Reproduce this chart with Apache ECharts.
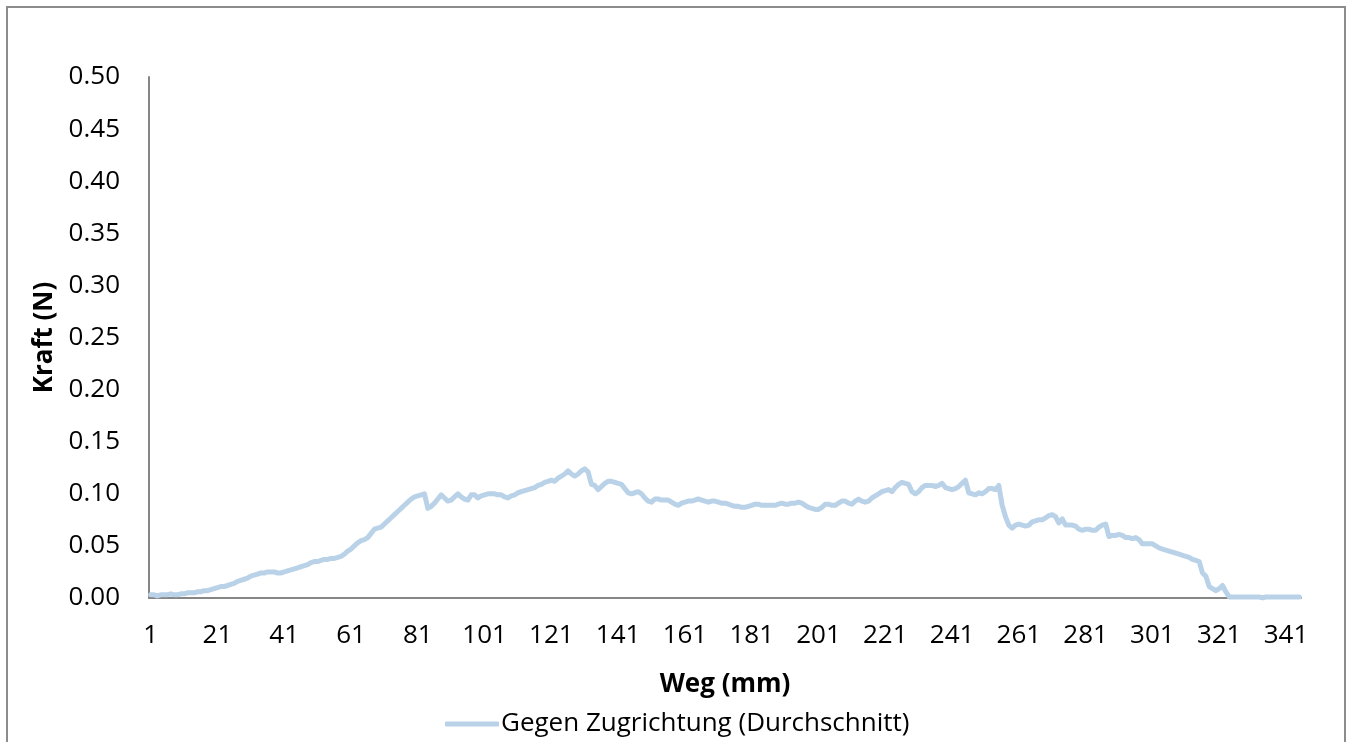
<!DOCTYPE html>
<html>
<head>
<meta charset="utf-8">
<script src="https://cdn.jsdelivr.net/npm/echarts@6/dist/echarts.min.js"></script>
<style>
  html, body { margin: 0; padding: 0; background: #ffffff; }
  #chart { width: 1352px; height: 742px; }
</style>
</head>
<body>
<div id="chart"></div>
<script>
// Weg positions (mm), one per measurement step
const wegCount = 345;
const wegCategories = [];
for (let i = 1; i <= wegCount; i++) wegCategories.push(String(i));

// Average force against the pull direction (N), one value per mm
const kraftGegenZug = [
  0.003,0.003,0.002,0.003,0.003,0.003,0.004,0.003,0.003,0.004,
  0.004,0.005,0.005,0.005,0.006,0.006,0.007,0.007,0.008,0.009,
  0.010,0.011,0.011,0.012,0.013,0.014,0.016,0.017,0.018,0.019,
  0.021,0.022,0.023,0.024,0.024,0.025,0.025,0.025,0.024,0.024,
  0.025,0.026,0.027,0.028,0.029,0.030,0.031,0.032,0.034,0.035,
  0.035,0.036,0.037,0.037,0.038,0.038,0.039,0.040,0.042,0.045,
  0.047,0.050,0.053,0.055,0.056,0.058,0.062,0.066,0.067,0.068,
  0.071,0.074,0.077,0.080,0.083,0.086,0.089,0.092,0.095,0.097,
  0.098,0.099,0.100,0.086,0.088,0.091,0.095,0.099,0.096,0.093,
  0.094,0.097,0.100,0.097,0.095,0.094,0.099,0.099,0.096,0.098,
  0.099,0.100,0.100,0.100,0.099,0.099,0.097,0.096,0.098,0.099,
  0.101,0.102,0.103,0.104,0.105,0.106,0.108,0.109,0.111,0.112,
  0.113,0.112,0.115,0.117,0.119,0.122,0.119,0.117,0.119,0.122,
  0.124,0.121,0.109,0.108,0.104,0.107,0.110,0.112,0.112,0.111,
  0.110,0.109,0.105,0.101,0.100,0.101,0.102,0.100,0.096,0.093,
  0.092,0.095,0.095,0.094,0.094,0.094,0.092,0.090,0.089,0.091,
  0.092,0.093,0.093,0.094,0.095,0.094,0.093,0.092,0.093,0.093,
  0.092,0.091,0.091,0.090,0.089,0.088,0.088,0.087,0.087,0.088,
  0.089,0.090,0.090,0.089,0.089,0.089,0.089,0.089,0.090,0.091,
  0.090,0.090,0.091,0.091,0.092,0.091,0.089,0.087,0.086,0.085,
  0.085,0.087,0.090,0.090,0.089,0.089,0.091,0.093,0.093,0.091,
  0.090,0.093,0.095,0.093,0.092,0.093,0.096,0.098,0.100,0.102,
  0.103,0.104,0.102,0.106,0.109,0.111,0.110,0.109,0.102,0.100,
  0.102,0.106,0.108,0.108,0.108,0.107,0.108,0.110,0.106,0.105,
  0.104,0.105,0.107,0.110,0.113,0.101,0.100,0.099,0.101,0.100,
  0.102,0.105,0.105,0.104,0.108,0.089,0.078,0.070,0.067,0.070,
  0.071,0.070,0.069,0.070,0.073,0.074,0.075,0.075,0.077,0.079,
  0.080,0.078,0.072,0.076,0.070,0.070,0.070,0.069,0.066,0.065,
  0.066,0.066,0.065,0.065,0.068,0.070,0.071,0.059,0.060,0.060,
  0.061,0.060,0.058,0.058,0.057,0.058,0.056,0.052,0.052,0.052,
  0.052,0.050,0.048,0.047,0.046,0.045,0.044,0.043,0.042,0.041,
  0.040,0.039,0.037,0.036,0.035,0.024,0.021,0.011,0.009,0.007,
  0.009,0.012,0.006,0.001,0.001,0.001,0.001,0.001,0.001,0.001,
  0.001,0.001,0.001,0.000,0.001,0.001,0.001,0.001,0.001,0.001,
  0.001,0.001,0.001,0.001,0.001
];

const seriesName = 'Gegen Zugrichtung (Durchschnitt)';
const xTitle = 'Weg (mm)';
const yTitle = 'Kraft (N)';

const FONT = '"Open Sans", "Noto Sans", sans-serif';
const FONT_SIZE = 26;
const AXIS_GREY = '#868686';
const LINE_BLUE = '#B9D2E8';

const chart = echarts.init(document.getElementById('chart'), null, { renderer: 'canvas' });

chart.setOption({
  animation: false,
  backgroundColor: '#ffffff',
  textStyle: { fontFamily: FONT },
  graphic: [{
    type: 'rect',
    shape: { x: 7, y: 7, width: 1338, height: 800 },
    style: { fill: 'none', stroke: '#8c8c8c', lineWidth: 2 },
    silent: true
  }],
  grid: { left: 149, right: 51, top: 77, bottom: 144, containLabel: false },
  legend: {
    data: [seriesName],
    left: 440,
    top: 706,
    icon: 'roundRect',
    itemWidth: 54,
    itemHeight: 5,
    itemGap: 0,
    textStyle: { fontFamily: FONT, fontSize: FONT_SIZE, color: '#000000', padding: [0, 0, 0, -3] }
  },
  xAxis: {
    type: 'category',
    data: wegCategories,
    boundaryGap: true,
    name: xTitle,
    nameLocation: 'middle',
    nameGap: 74,
    nameTextStyle: { fontFamily: FONT, fontSize: FONT_SIZE, fontWeight: 'bold', color: '#000000', verticalAlign: 'top' },
    axisLine: { show: true, lineStyle: { color: AXIS_GREY, width: 2 } },
    axisTick: { show: false },
    axisLabel: { interval: 19, margin: 25, fontFamily: FONT, fontSize: FONT_SIZE, color: '#000000' },
    splitLine: { show: false }
  },
  yAxis: {
    type: 'value',
    min: 0,
    max: 0.5,
    interval: 0.05,
    name: yTitle,
    nameLocation: 'middle',
    nameRotate: 90,
    nameGap: 90,
    nameTextStyle: { fontFamily: FONT, fontSize: FONT_SIZE, fontWeight: 'bold', color: '#000000' },
    axisLine: { show: true, lineStyle: { color: AXIS_GREY, width: 2 } },
    axisTick: { show: false },
    axisLabel: {
      margin: 29,
      fontFamily: FONT,
      fontSize: FONT_SIZE,
      color: '#000000',
      formatter: v => v.toFixed(2)
    },
    splitLine: { show: false }
  },
  series: [{
    name: seriesName,
    type: 'line',
    data: kraftGegenZug,
    showSymbol: false,
    symbol: 'none',
    itemStyle: { color: LINE_BLUE },
    lineStyle: { color: LINE_BLUE, width: 5, cap: 'round', join: 'round' }
  }]
});
</script>
</body>
</html>
